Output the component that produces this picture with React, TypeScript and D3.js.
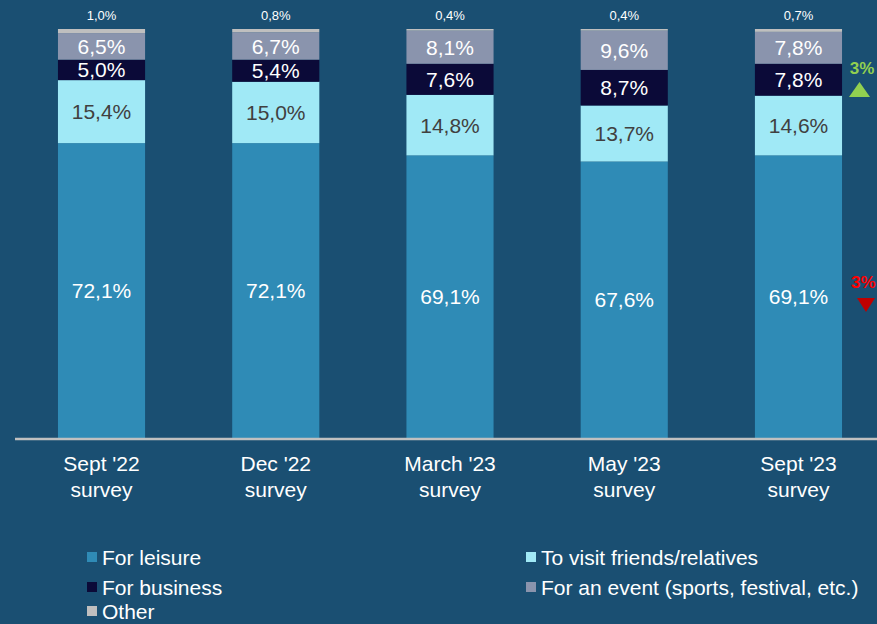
import React from "react";
import * as d3 from "d3";

const categories = ["Sept '22|survey", "Dec '22|survey", "March '23|survey", "May '23|survey", "Sept '23|survey"];
const seriesNames = ["For leisure", "To visit friends/relatives", "For business", "For an event (sports, festival, etc.)", "Other"];
const leisure = [72.1, 72.1, 69.1, 67.6, 69.1];
const friends = [15.4, 15.0, 14.8, 13.7, 14.6];
const business = [5.0, 5.4, 7.6, 8.7, 7.8];
const eventVals = [6.5, 6.7, 8.1, 9.6, 7.8];
const other = [1.0, 0.8, 0.4, 0.4, 0.7];
const colors = ["#2f8bb6", "#a0e9f6", "#0b0a38", "#8a94ad", "#bfbfbf"];
const labelColors = ["#ffffff", "#404040", "#ffffff", "#ffffff", "#ffffff"];
const changeUp = "3%";
const changeDown = "3%";

const W = 877;
const H = 624;
const BG = "#1a4f72";
const FONT = "'Liberation Sans', Arial, sans-serif";

export default function App() {
  const series = [leisure, friends, business, eventVals, other];
  const rows = categories.map((c, i) => {
    const r: any = { cat: c };
    seriesNames.forEach((s, k) => (r[s] = series[k][i]));
    return r;
  });
  const stacked = d3.stack<any>().keys(seriesNames)(rows);
  const x = d3.scaleBand<string>().domain(categories).range([14.4, 885.6]).paddingInner(0.5).paddingOuter(0.25);
  const y = d3.scaleLinear().domain([0, 100]).range([438, 29]);
  const fmt = (v: number) => v.toFixed(1).replace(".", ",") + "%";

  const legendPos = [
    [87, 557], [526, 557], [87, 587], [526, 587], [87, 611],
  ];

  return (
    <svg width={W} height={H} style={{ position: "absolute", left: 0, top: 0, display: "block" }} fontFamily={FONT}>
      <rect x={0} y={0} width={W} height={H} fill={BG} />
      {stacked.map((layer, k) => (
        <g key={k}>
          {layer.map((d, i) => {
            const x0 = x(categories[i])!;
            const bw = x.bandwidth();
            const top = y(d[1]);
            const bot = y(d[0]);
            const v = series[k][i];
            return (
              <g key={i}>
                <rect x={x0} y={top} width={bw} height={bot - top} fill={colors[k]} />
                {k < 4 ? (
                  <text x={x0 + bw / 2} y={(top + bot) / 2} dy="0.36em" textAnchor="middle" fontSize={21} fill={labelColors[k]}>
                    {fmt(v)}
                  </text>
                ) : (
                  <text x={x0 + bw / 2} y={top - 9} textAnchor="middle" fontSize={13} fill="#ffffff">
                    {fmt(v)}
                  </text>
                )}
              </g>
            );
          })}
        </g>
      ))}
      <line x1={15} x2={W} y1={y(0) + 1} y2={y(0) + 1} stroke="#c0c0c0" strokeWidth={2.5} />
      {categories.map((c, i) => {
        const cx = x(c)! + x.bandwidth() / 2;
        const parts = c.split("|");
        return (
          <g key={c}>
            <text x={cx} y={471} textAnchor="middle" fontSize={21} fill="#ffffff">{parts[0]}</text>
            <text x={cx} y={497} textAnchor="middle" fontSize={21} fill="#ffffff">{parts[1]}</text>
          </g>
        );
      })}
      {seriesNames.map((s, k) => (
        <g key={s}>
          <rect x={legendPos[k][0]} y={legendPos[k][1] - 5} width={10} height={10} fill={colors[k]} />
          <text x={legendPos[k][0] + 15} y={legendPos[k][1]} dy="0.36em" fontSize={21} fill="#ffffff">{s}</text>
        </g>
      ))}
      <text x={862} y={74} textAnchor="middle" fontSize={17} fontWeight="bold" fill="#92d050">{changeUp}</text>
      <path d="M859.5,82 L870,97 L849,97 Z" fill="#92d050" />
      <text x={851} y={288} fontSize={17} fontWeight="bold" fill="#ff0000">{changeDown}</text>
      <path d="M857,298 L875,298 L866,312 Z" fill="#c00000" />
    </svg>
  );
}
